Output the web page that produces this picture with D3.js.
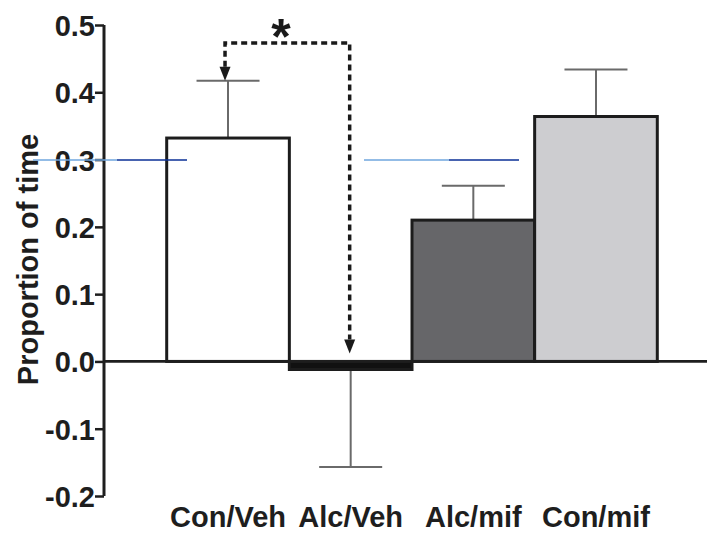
<!DOCTYPE html>
<html>
<head>
<meta charset="utf-8">
<script src="https://cdn.jsdelivr.net/npm/d3@7"></script>
<style>
  body { margin: 0; background: #fff; }
  svg { display: block; font-family: "Liberation Sans", Arial, Helvetica, sans-serif; }
</style>
</head>
<body>
<script>
"use strict";

// data
const categories = ['Con/Veh', 'Alc/Veh', 'Alc/mif', 'Con/mif'];
const means = [0.332, -0.012, 0.210, 0.364];
const errors = [0.085, 0.145, 0.051, 0.070];
const fills = ['#ffffff', '#111111', '#666669', '#cdcdd0'];
const yTicks = [-0.2, -0.1, 0.0, 0.1, 0.2, 0.3, 0.4, 0.5];

const width = 707;
const height = 533;

const svg = d3.select('body').append('svg')
  .attr('width', width)
  .attr('height', height);

const x = d3.scaleBand().domain(categories).range([166.7, 657.3]).padding(0);
const y = d3.scaleLinear().domain([-0.2, 0.5]).range([496, 25]);

// y axis, plain hyphen for negatives like the original
const fmt = d3.format('.1f');
const yAxis = d3.axisLeft(y)
  .tickValues(yTicks)
  .tickFormat((d) => fmt(d).replace('\u2212', '-'))
  .tickSize(9)
  .tickPadding(0);

const gy = svg.append('g').attr('transform', 'translate(104,0)').call(yAxis);
gy.select('.domain').attr('d', `M0,${y(0.5)}V${y(-0.2)}`)
  .attr('stroke', '#1e1e1e').attr('stroke-width', 3);
gy.selectAll('.tick line').attr('stroke', '#1e1e1e').attr('stroke-width', 2.5);
gy.selectAll('.tick text')
  .attr('fill', '#1e1e1e')
  .style('font-size', '29px')
  .style('font-weight', 'bold')
  .attr('dy', '0.36em');

svg.append('text')
  .attr('transform', `translate(38,${(y(0.5) + y(-0.2)) / 2 - 1}) rotate(-90)`)
  .attr('text-anchor', 'middle')
  .attr('fill', '#1e1e1e')
  .style('font-size', '29px')
  .style('font-weight', 'bold')
  .text('Proportion of time');

// error bars (one sided, away from zero)
const capHalf = 31.5;
const errG = svg.append('g').attr('stroke', '#6a6a6a').attr('stroke-width', 2);
categories.forEach((c, i) => {
  let cx = x(c) + x.bandwidth() / 2;
  let end = means[i] >= 0 ? means[i] + errors[i] : means[i] - errors[i];
  errG.append('line').attr('x1', cx).attr('x2', cx).attr('y1', y(means[i])).attr('y2', y(end));
  errG.append('line').attr('x1', cx - capHalf).attr('x2', cx + capHalf).attr('y1', y(end)).attr('y2', y(end));
});

// bars
svg.append('g').selectAll('rect')
  .data(categories)
  .join('rect')
  .attr('x', (d) => x(d))
  .attr('width', x.bandwidth())
  .attr('y', (d, i) => y(Math.max(0, means[i])))
  .attr('height', (d, i) => Math.abs(y(means[i]) - y(0)))
  .attr('fill', (d, i) => fills[i])
  .attr('stroke', '#1c1c1c')
  .attr('stroke-width', 3);

// zero line
svg.append('line')
  .attr('x1', 104).attr('x2', width)
  .attr('y1', y(0)).attr('y2', y(0))
  .attr('stroke', '#1e1e1e').attr('stroke-width', 2.7);

// x labels
svg.append('g').selectAll('text')
  .data(categories)
  .join('text')
  .attr('x', (d) => x(d) + x.bandwidth() / 2)
  .attr('y', 527)
  .attr('text-anchor', 'middle')
  .attr('fill', '#1e1e1e')
  .style('font-size', '29px')
  .style('font-weight', 'bold')
  .text((d) => d);

// significance bracket Con/Veh -> Alc/Veh
const bracketY = 43;
const xa = x(categories[0]) + x.bandwidth() / 2 - 3;
const xb = x(categories[1]) + x.bandwidth() / 2 - 1;
const tipA = y(means[0] + errors[0]);
const tipB = y(0) - 8;
const headH = 14;
const headW = 5.5;

svg.append('path')
  .attr('d', `M${xa},${tipA - headH}V${bracketY}H${xb}V${tipB - headH}`)
  .attr('fill', 'none')
  .attr('stroke', '#1a1a1a')
  .attr('stroke-width', 3.5)
  .attr('stroke-dasharray', '6,4');

[[xa, tipA], [xb, tipB]].forEach(([ax, ay]) => {
  svg.append('path')
    .attr('d', `M${ax - headW},${ay - headH}L${ax + headW},${ay - headH}L${ax},${ay}Z`)
    .attr('fill', '#1a1a1a');
});

svg.append('text')
  .attr('x', 281)
  .attr('y', 54)
  .attr('text-anchor', 'middle')
  .attr('fill', '#1a1a1a')
  .style('font-size', '50px')
  .style('font-weight', 'bold')
  .text('*');

// stray blue rule marks present in the source image
const blueMarks = [[33, 117, 187], [364, 449, 519]];
blueMarks.forEach(([a, m, b]) => {
  svg.append('line').attr('x1', a).attr('x2', m).attr('y1', 160).attr('y2', 160)
    .attr('stroke', '#6fa6de').attr('stroke-width', 1.5);
  svg.append('line').attr('x1', m).attr('x2', b).attr('y1', 160).attr('y2', 160)
    .attr('stroke', '#0a2f96').attr('stroke-width', 1.5);
});
</script>
</body>
</html>
